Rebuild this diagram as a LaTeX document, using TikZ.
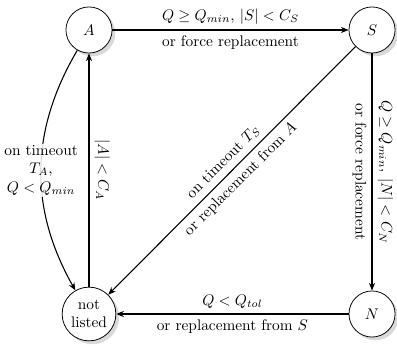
\documentclass[tikz,border=0pt]{standalone}
\usetikzlibrary{shadows,arrows.meta}
\begin{document}
\begin{tikzpicture}[x=0.651pt,y=-0.651pt,
  state/.style={circle,draw,line width=0.5pt,fill=white,minimum size=30pt,inner sep=1pt,drop shadow={opacity=0.3}},
  conn/.style={-{Stealth[length=5pt,width=4pt]},line width=0.7pt},
  rconn/.style={{Stealth[length=5pt,width=4pt]}-,line width=0.7pt}]
\useasboundingbox (0,0) rectangle (397,346);
\node[state] (A) at (89,30) {$A$};
\node[state] (S) at (372,30) {$S$};
\node[state] (N) at (372,314) {$N$};
\node[state,minimum size=35pt,align=center,inner sep=0.5pt] (L) at (89,314) {not\\listed};
\draw[conn] (A) -- node[above]{$Q\geq Q_{min}$, $|S|<C_S$} node[below]{or force replacement} (S);
\draw[conn] (S) -- node[sloped,above]{$Q\geq Q_{min}$, $|N|<C_N$} node[sloped,below]{or force replacement} (N);
\draw[conn] (S) -- node[sloped,above]{on timeout $T_S$} node[sloped,below]{or replacement from $A$} (L);
\draw[conn] (N) -- node[above]{$Q<Q_{tol}$} node[below]{or replacement from $S$} (L);
\draw[rconn] (A) -- node[sloped,above]{$|A|<C_A$} (L);
\draw[conn] (A) to[bend right=30] node[fill=white,fill opacity=0.85,text opacity=1,align=center,inner sep=1pt]{on timeout\\$T_A$,\\$Q<Q_{min}$} (L);
\end{tikzpicture}
\end{document}
